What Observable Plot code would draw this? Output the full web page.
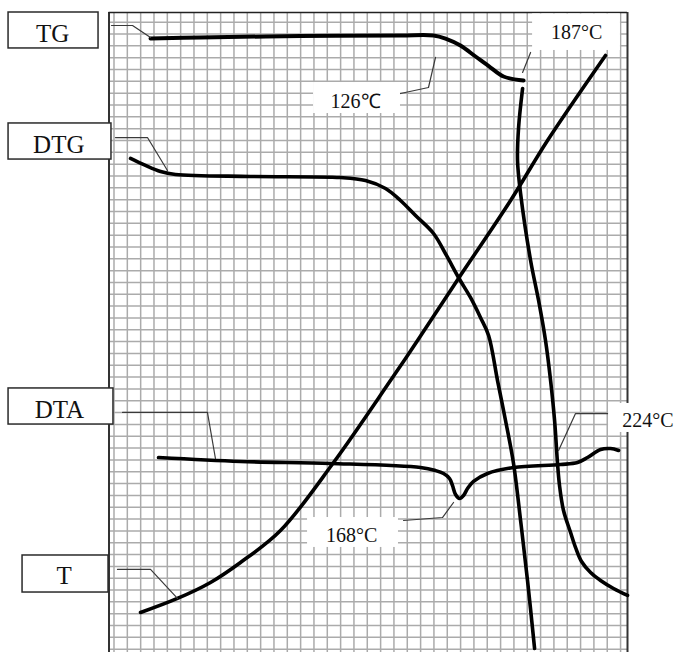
<!DOCTYPE html>
<html><head><meta charset="utf-8">
<script src="https://cdn.jsdelivr.net/npm/d3@7"></script>
<script src="https://cdn.jsdelivr.net/npm/@observablehq/plot@0.6"></script>
<style>html,body{margin:0;padding:0;background:#fff}#chart svg{display:block}</style>
</head><body><div id="chart"></div>
<script>
// All values are in chart-paper divisions (x: columns from the first grid line, y: rows from the top grid line)
const gridCols = d3.range(0, 39);
const gridRows = d3.range(0, 54);

const tgUpper = [[2.74,1.38],[6.49,1.29],[13.99,1.17],[21.49,1.12],[23.97,1.12],[24.87,1.38],[25.99,1.97],[27.12,2.90],[28.25,3.83],[29.22,4.59],[30.72,4.93]];
const tgLower = [[30.65,5.60],[30.35,8.90],[30.27,11.69],[30.50,14.48],[31.25,20.14],[31.85,23.52],[32.37,26.91],[32.75,30.29],[33.05,33.67],[33.27,37.30],[33.42,39.16],[33.72,41.28],[34.25,43.14],[34.62,44.40],[35.07,45.59],[35.75,46.52],[36.50,47.19],[37.47,47.87],[38.52,48.46]];
const dtg = [[1.24,11.52],[2.36,12.11],[3.49,12.62],[4.61,12.87],[10.24,13.04],[16.99,13.13],[18.87,13.38],[20.37,14.06],[21.49,15.07],[22.62,16.34],[23.97,17.86],[24.94,19.72],[25.84,21.58],[26.74,23.27],[27.49,24.96],[28.10,26.48],[28.77,30.29],[29.37,33.67],[29.97,37.30],[30.50,42.12],[31.02,47.19],[31.55,52.94]];
const temp = [[1.99,49.90],[4.76,48.71],[7.24,47.36],[9.49,45.67],[12.49,42.97],[16.47,37.22],[20.74,30.29],[22.77,26.91],[25.84,21.66],[29.75,15.07],[32.52,10.00],[36.87,2.81]];
const dta = [[3.34,36.80],[9.49,37.13],[16.24,37.30],[22.99,37.64],[24.12,37.90],[24.72,38.15],[25.17,38.57],[25.39,39.16],[25.62,39.92],[25.92,40.26],[26.22,40.01],[26.52,39.42],[26.97,38.82],[28.02,38.15],[29.97,37.64],[33.50,37.39],[34.77,37.22],[35.52,36.80],[36.50,36.12],[37.25,36.04],[37.85,36.20]];

const curveNames = ["TG", "DTG", "DTA", "T"];
const curveLabelBoxes = [
  {x1:-7.91, x2:-1.16, y1:-0.82, y2:2.22, tx:-4.61, ty:0.98},
  {x1:-7.91, x2:-0.19, y1:8.56, y2:11.61, tx:-4.14, ty:10.34},
  {x1:-7.91, x2:-0.04, y1:30.96, y2:34.01, tx:-4.09, ty:32.78},
  {x1:-6.86, x2:-0.41, y1:45.08, y2:48.21, tx:-3.74, ty:46.84}
].map((d, i) => ({...d, name: curveNames[i]}));

const leaderTG  = [[-0.19,0.28],[1.39,0.28],[2.74,1.29]];
const leaderDTG = [[0.11,9.75],[2.51,9.75],[4.01,12.54]];
const leaderDTA = [[0.64,32.99],[7.01,32.99],[7.61,36.88]];
const leaderT   = [[0.26,46.26],[2.74,46.26],[4.76,48.71]];
const leader126 = [[21.49,6.03],[23.59,5.52],[24.12,2.98]];
const leader187 = [[31.25,2.56],[30.65,4.25]];
const leader224 = [[37.10,33.08],[34.62,33.08],[33.35,36.20]];
const leader168 = [[21.72,42.12],[24.64,41.87],[25.47,40.60]];
const leaders = [leaderTG, leaderDTG, leaderDTA, leaderT, leader126, leader187, leader224, leader168];

const tempLabels = ["126℃", "187°C", "168°C", "224°C"];
const tempLabelBoxes = [
  {x1:14.97, x2:21.49, y1:5.10, y2:7.72, tx:18.12, ty:6.70},
  {x1:31.40, x2:37.99, y1:-0.70, y2:2.39, tx:34.70, ty:0.85},
  {x1:14.52, x2:21.34, y1:41.87, y2:44.40, tx:17.82, ty:43.39},
  {x1:37.10, x2:42.19, y1:32.23, y2:34.68, tx:40.06, ty:33.67}
].map((d, i) => ({...d, label: tempLabels[i]}));

const X0 = -0.375, X1 = 38.52, Y0 = -0.82, Y1 = 53.28;
const curveStyle = {stroke: "#000", strokeWidth: 3.6, curve: "catmull-rom", strokeLinecap: "round"};

const chart = Plot.plot({
  width: 676, height: 652,
  marginLeft: 108.5, marginRight: 49, marginTop: 12, marginBottom: 0,
  x: {domain: [X0, X1], axis: null},
  y: {domain: [Y0, Y1], reverse: true, axis: null},
  style: {background: "#fff", overflow: "visible"},
  marks: [
    Plot.ruleX(gridCols, {stroke: "#ababab", strokeWidth: 1.5}),
    Plot.ruleY(gridRows, {stroke: "#ababab", strokeWidth: 1.5}),
    Plot.ruleX([X0], {stroke: "#333", strokeWidth: 2}),
    Plot.ruleX([X1], {stroke: "#333", strokeWidth: 2}),
    Plot.ruleY([Y0], {stroke: "#222", strokeWidth: 1.6}),
    Plot.line(temp, curveStyle),
    Plot.line(dta, curveStyle),
    Plot.line(dtg, curveStyle),
    Plot.line(tgUpper, {...curveStyle, strokeWidth: 4}),
    Plot.line(tgLower, curveStyle),
    ...leaders.map(l => Plot.line(l, {stroke: "#3a3a3a", strokeWidth: 1.2})),
    Plot.rect(tempLabelBoxes, {x1: "x1", x2: "x2", y1: "y1", y2: "y2", fill: "#fff"}),
    Plot.text(tempLabelBoxes, {x: "tx", y: "ty", text: "label", fontSize: 20, fontFamily: "Liberation Serif", fill: "#111"}),
    Plot.rect(curveLabelBoxes, {x1: "x1", x2: "x2", y1: "y1", y2: "y2", fill: "#fff", stroke: "#2a2a2a", strokeWidth: 1.5}),
    Plot.text(curveLabelBoxes, {x: "tx", y: "ty", text: "name", fontSize: 25, fontFamily: "Liberation Serif", fill: "#111"})
  ]
});
document.getElementById("chart").append(chart);
</script>
</body></html>
